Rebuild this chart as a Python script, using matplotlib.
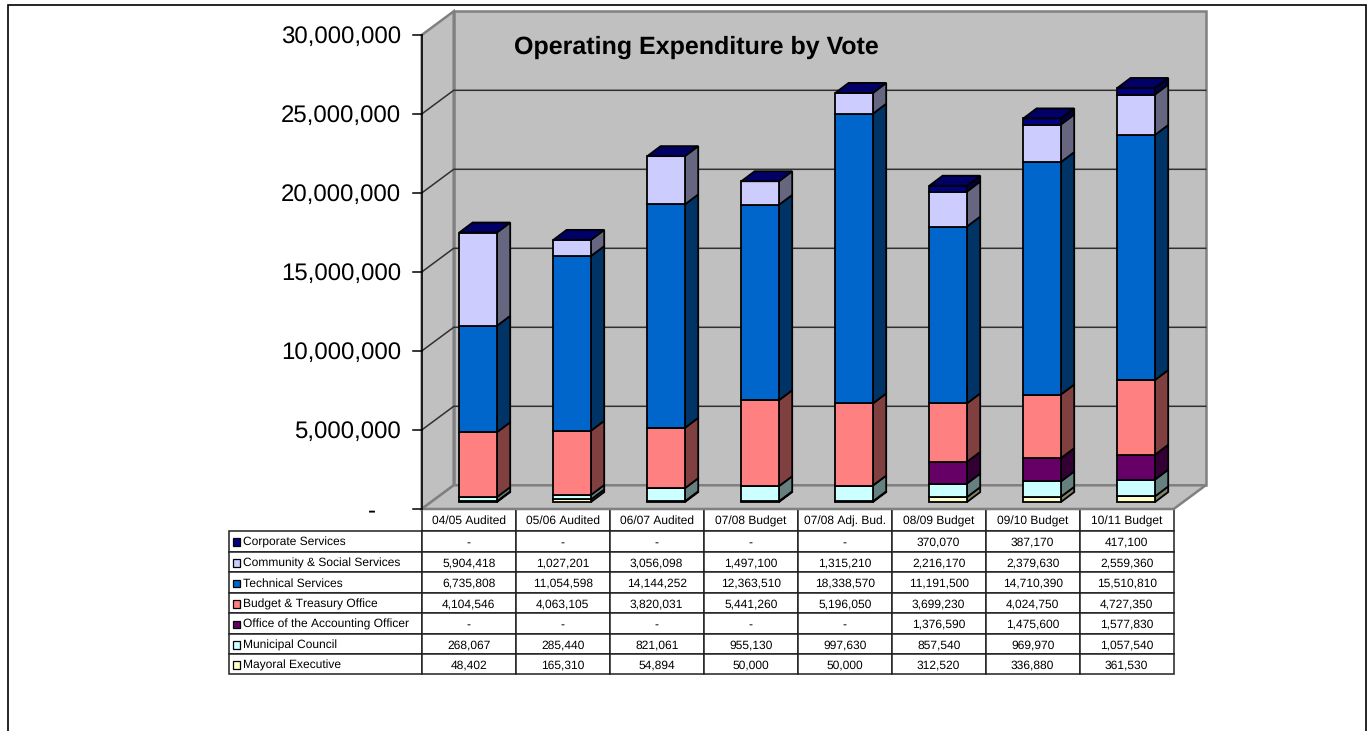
import matplotlib
matplotlib.use('Agg')
import matplotlib.pyplot as plt
from matplotlib.patches import Polygon, Rectangle

plt.rcParams['font.family'] = ['Liberation Sans', 'DejaVu Sans']
plt.rcParams['text.hinting'] = 'none'
plt.rcParams['text.hinting_factor'] = 1

years = ['04/05 Audited', '05/06 Audited', '06/07 Audited', '07/08 Budget',
         '07/08 Adj. Bud.', '08/09 Budget', '09/10 Budget', '10/11 Budget']
mayoral = [48402, 165310, 54894, 50000, 50000, 312520, 336880, 361530]
council = [268067, 285440, 821061, 955130, 997630, 857540, 969970, 1057540]
accounting = [0, 0, 0, 0, 0, 1376590, 1475600, 1577830]
treasury = [4104546, 4063105, 3820031, 5441260, 5196050, 3699230, 4024750, 4727350]
technical = [6735808, 11054598, 14144252, 12363510, 18338570, 11191500, 14710390, 15510810]
community = [5904418, 1027201, 3056098, 1497100, 1315210, 2216170, 2379630, 2559360]
corporate = [0, 0, 0, 0, 0, 370070, 387170, 417100]
y_ticks = [0, 5000000, 10000000, 15000000, 20000000, 25000000, 30000000]

# De abajo hacia arriba: nombre, valores, color frontal, color lateral
stack = [
    ('Mayoral Executive', mayoral, '#FFFFCC', '#808066'),
    ('Municipal Council', council, '#CCFFFF', '#668080'),
    ('Office of the Accounting Officer', accounting, '#660066', '#330033'),
    ('Budget & Treasury Office', treasury, '#FF8080', '#804040'),
    ('Technical Services', technical, '#0066CC', '#003366'),
    ('Community & Social Services', community, '#CCCCFF', '#666680'),
    ('Corporate Services', corporate, '#000080', '#000040'),
]

W, H = 1369, 731
X0, Y0 = 421.7, 509.0      # pixel del origen del plano frontal
PX_CAT = 94.0              # pixeles por categoria
PX_VAL = 79.0 / 5000000    # pixeles por unidad de valor


def px_x(p):
    return (p - X0) / PX_CAT


def px_y(p):
    return (Y0 - p) / PX_VAL


fig = plt.figure(figsize=(W / 100, H / 100), dpi=100)
ax = fig.add_axes([0, 0, 1, 1])
ax.set_xlim(px_x(0), px_x(W))
ax.set_ylim(px_y(H), px_y(0))
ax.axis('off')

# Profundidad de paredes y barras
wall_dx, wall_dy = 32 / PX_CAT, 23.7 / PX_VAL
bar_dx, bar_dy = 13.3 / PX_CAT, 10 / PX_VAL
bar_start, bar_w = 0.4, 0.4
base_dy = 6.9 / PX_VAL
n = len(years)
top = y_ticks[-1]

# Marco exterior
ax.add_patch(Rectangle((px_x(8.5), px_y(760)), px_x(1365.5) - px_x(8.5), px_y(4.5) - px_y(760),
                       fc='white', ec='black', lw=1.2, zorder=0))

# Paredes y suelo
wall = dict(fc='#C0C0C0', ec='#808080', lw=1.8, zorder=1)
ax.add_patch(Polygon([(0, 0), (wall_dx, wall_dy), (wall_dx, top + wall_dy), (0, top)], **wall))
ax.add_patch(Polygon([(wall_dx, wall_dy), (n + wall_dx, wall_dy), (n + wall_dx, top + wall_dy),
                      (wall_dx, top + wall_dy)], **wall))
ax.add_patch(Polygon([(0, 0), (n, 0), (n + wall_dx, wall_dy), (wall_dx, wall_dy)], **wall))

# Rejilla, eje y marcas
for v in y_ticks[1:-1]:
    ax.plot([0, wall_dx, n + wall_dx], [v, v + wall_dy, v + wall_dy], color='#303030', lw=1.1, zorder=2)
ax.plot([0, 0], [0, top], color='black', lw=1.1, zorder=3)
label_drop = 2 / PX_VAL
for v in y_ticks:
    ax.plot([px_x(412.7), 0], [v, v], color='black', lw=1.1, zorder=3)
    if v == 0:
        ax.text(px_x(376), v - label_drop, '-', ha='right', va='center', fontsize=17)
    else:
        ax.text(px_x(401), v - label_drop, f'{v:,}', ha='right', va='center', fontsize=17)

ax.text(px_x(514), px_y(47), 'Operating Expenditure by Vote', fontsize=18, fontweight='bold',
        ha='left', va='center', zorder=5)

# Barras apiladas con caras frontal, lateral y superior
edge = dict(ec='black', lw=1.3, zorder=4, joinstyle='miter')
for i in range(n):
    left = i + bar_start
    right = left + bar_w
    bottom = base_dy
    for name, values, front, side in stack:
        v = values[i]
        if v == 0:
            continue
        ax.add_patch(Polygon([(right, bottom), (right + bar_dx, bottom + bar_dy),
                              (right + bar_dx, bottom + v + bar_dy), (right, bottom + v)],
                             fc=side, **edge))
        ax.add_patch(Rectangle((left, bottom), bar_w, v, fc=front, **edge))
        bottom += v
    ax.add_patch(Polygon([(left, bottom), (right, bottom), (right + bar_dx, bottom + bar_dy),
                          (left + bar_dx, bottom + bar_dy)], fc='#000066', **edge))

# Tabla de datos
rows = [['', *years]]
for name, values, front, side in reversed(stack):
    rows.append([name] + [f'{v:,}' if v else '-' for v in values])

row_lines = [509.0, 530.7, 551.7, 572.3, 592.7, 613.3, 633.7, 654.3, 674.0]
tx0, tx1 = 229.3, 1173.7
ty0, ty1 = row_lines[0], row_lines[-1]
tbl = ax.table(cellText=rows, cellLoc='center',
               colWidths=[192.4] + [94] * n,
               bbox=[tx0 / W, 1 - ty1 / H, (tx1 - tx0) / W, (ty1 - ty0) / H])
tbl.auto_set_font_size(False)
tbl.set_fontsize(8.75)
for (r, c), cell in tbl.get_celld().items():
    cell.set_height((row_lines[r + 1] - row_lines[r]) / H)
    cell.set_linewidth(1.1)
    cell.set_edgecolor('#202020')
    cell.set_facecolor('white')
    cell.get_text().set_va('center_baseline')
    if c == 0:
        cell.PAD = 0.073
        cell.get_text().set_ha('left')
        if r == 0:
            cell.set_visible(False)

# Muestras de color de la leyenda
for k, (name, values, front, side) in enumerate(reversed(stack)):
    yc = (row_lines[k + 1] + row_lines[k + 2]) / 2 + 1
    ax.add_patch(Rectangle((px_x(232.5), px_y(yc + 3.9)), 7.6 / PX_CAT, 7.8 / PX_VAL,
                           fc=front, ec='black', lw=0.9, zorder=20))

fig.savefig('out.png', dpi=100)
